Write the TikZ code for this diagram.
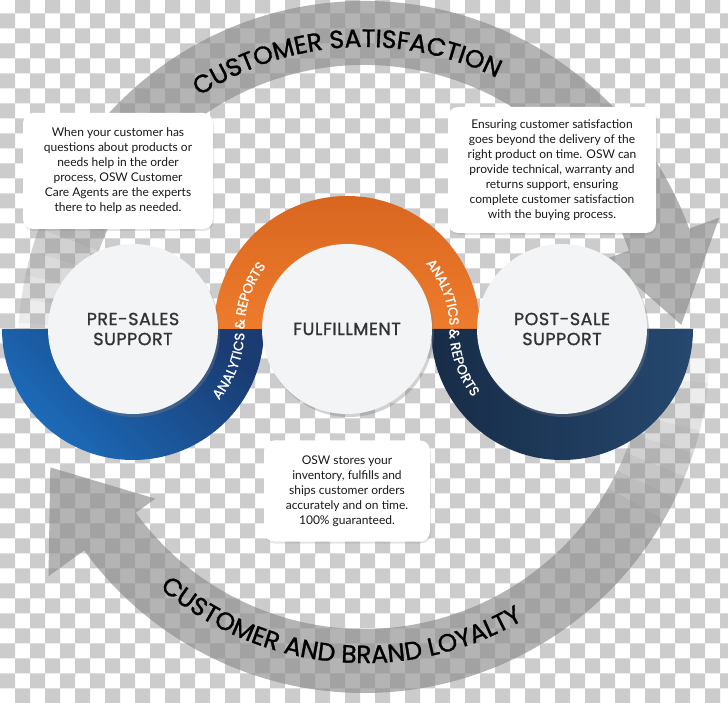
\documentclass[tikz,border=0pt]{standalone}
\usepackage{xcolor}
\usepackage{fontspec}
\setmainfont{Lato}
\newfontfamily\headfont[FakeBold=1.2]{Poppins}
\newfontfamily\hubfont[FakeBold=1.2,LetterSpace=3]{Poppins}
\newfontfamily\bandfont[FakeBold=1.2]{Poppins}
\usepackage{tikz}
\usetikzlibrary{decorations.text,shadows}

\definecolor{chk}{HTML}{CCCCCC}
\definecolor{blueA}{HTML}{1C6DBD}
\definecolor{blueB}{HTML}{1A3C72}
\definecolor{orangeA}{HTML}{EF7C2C}
\definecolor{orangeB}{HTML}{D8661F}
\definecolor{navyA}{HTML}{26486F}
\definecolor{navyB}{HTML}{172C47}
\definecolor{disc}{HTML}{F2F4F6}
\definecolor{ink}{HTML}{333333}

\begin{document}
\begin{tikzpicture}[x=1pt, y=1pt,
  hub/.style={circle, minimum size=170pt, inner sep=0pt, fill=disc, align=center, text=ink,
    font=\hubfont\fontsize{17.5}{20}\selectfont,
    drop shadow={shadow xshift=2pt, shadow yshift=-3pt, opacity=0.35}},
  note/.style={rectangle, rounded corners=10pt, fill=white, align=center, text=black!90,
    font=\fontsize{12}{15}\selectfont,
    drop shadow={shadow xshift=1pt, shadow yshift=-2pt, opacity=0.2}},
  band/.style={fill=black!45, fill opacity=0.65},
  bandtext/.style={decorate, decoration={text along path, text align=center, text color=black,
    text={|\bandfont\fontsize{25}{25}\selectfont|#1}}},
  artext/.style={decorate, decoration={text along path, text align=center, text color=white, raise=-4.5pt,
    text={|\headfont\fontsize{13.5}{14}\selectfont|ANALYTICS {\&} REPORTS}}}]
\useasboundingbox (0,0) rectangle (728,702);
\clip (0,0) rectangle (728,702);
\fill[white] (0,0) rectangle (728,702);
\fill[chk] foreach \j in {0,2,...,46} {foreach \i in {1,3,...,47} {(15*\i,703.7-15*\j) rectangle ++(15,-15)}}
  foreach \j in {1,3,...,47} {foreach \i in {0,2,...,48} {(15*\i,703.7-15*\j) rectangle ++(15,-15)}};

\coordinate (ctr) at (364,355);
\coordinate (pc) at (133,373);
\coordinate (fc) at (347,373);
\coordinate (sc) at (562,373);

\foreach \k in {0,...,7} {
  \pgfmathsetmacro\op{0.08*(\k+1)}
  \fill[band, fill opacity=\op] ([shift={(180-4*\k:346)}]ctr) arc[start angle=180-4*\k, end angle=176-4*\k, radius=346]
    -- ([shift={(176-4*\k:282)}]ctr) arc[start angle=176-4*\k, end angle=180-4*\k, radius=282] -- cycle;
  \fill[band, fill opacity=\op] ([shift={(-2-4*\k:346)}]ctr) arc[start angle=-2-4*\k, end angle=-6-4*\k, radius=346]
    -- ([shift={(-6-4*\k:282)}]ctr) arc[start angle=-6-4*\k, end angle=-2-4*\k, radius=282] -- cycle;
}
\fill[band] ([shift={(148:346)}]ctr) arc[start angle=148, end angle=20, radius=346]
  -- ([shift={(20:378)}]ctr) -- ([shift={(4:318)}]ctr) -- ([shift={(20:258)}]ctr)
  -- ([shift={(20:282)}]ctr) arc[start angle=20, end angle=148, radius=282] -- cycle;
\fill[band] ([shift={(-34:346)}]ctr) arc[start angle=-34, end angle=-144, radius=346]
  -- ([shift={(-144:390)}]ctr) -- ([shift={(-159:336)}]ctr) -- ([shift={(-144:258)}]ctr)
  -- ([shift={(-144:282)}]ctr) arc[start angle=-144, end angle=-34, radius=282] -- cycle;
\path[bandtext={CUSTOMER SATISFACTION}] ([shift={(165:300)}]ctr) arc[start angle=165, end angle=22, radius=300];
\path[bandtext={CUSTOMER AND BRAND LOYALTY}] ([shift={(200:316)}]ctr) arc[start angle=200, end angle=330, radius=316];

\shade[top color=blueB, bottom color=blueA, shading angle=-45]
  ([shift={(180:131)}]pc) arc[start angle=180, end angle=360, radius=131]
  -- ([shift={(0:80)}]pc) arc[start angle=360, end angle=180, radius=80] -- cycle;
\shade[top color=orangeB, bottom color=orangeA]
  ([shift={(0:133)}]fc) arc[start angle=0, end angle=180, radius=133]
  -- ([shift={(180:80)}]fc) arc[start angle=180, end angle=0, radius=80] -- cycle;
\shade[left color=navyB, right color=navyA]
  ([shift={(180:131)}]sc) arc[start angle=180, end angle=360, radius=131]
  -- ([shift={(0:80)}]sc) arc[start angle=360, end angle=180, radius=80] -- cycle;

\node[hub] (presales) at (pc) {PRE-SALES\\SUPPORT};
\node[hub] (fulfil) at (fc) {FULFILLMENT};
\node[hub] (postsale) at (sc) {POST-SALE\\SUPPORT};

\path[artext] ([shift={(-46:107)}]pc) arc[start angle=-46, end angle=0, radius=107]
  arc[start angle=180, end angle=136, radius=107];
\path[artext] ([shift={(46:107)}]fc) arc[start angle=46, end angle=0, radius=107]
  arc[start angle=180, end angle=224, radius=107];

\node[note, minimum width=190pt, minimum height=116pt] (presalesnote) at (118,531)
  {When your customer has\\questions about products or\\needs help in the order\\process, OSW Customer\\Care Agents are the experts\\there to help as needed.};
\node[note, minimum width=208pt, minimum height=126pt] (postsalenote) at (552,532)
  {Ensuring customer satisfaction\\goes beyond the delivery of the\\right product on time. OSW can\\provide technical, warranty and\\returns support, ensuring\\complete customer satisfaction\\with the buying process.};
\node[note, minimum width=166pt, minimum height=101pt] (fulfilnote) at (347,211)
  {OSW stores your\\inventory, fulfills and\\ships customer orders\\accurately and on time.\\100\% guaranteed.};
\end{tikzpicture}
\end{document}
